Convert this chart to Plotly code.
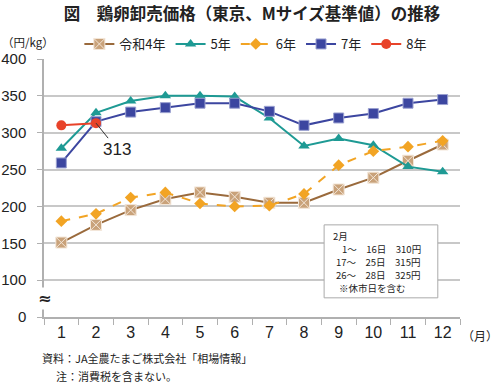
import plotly.graph_objects as go

months = ["1", "2", "3", "4", "5", "6", "7", "8", "9", "10", "11", "12"]
series_names = ["令和4年", "5年", "6年", "7年", "8年"]
r4 = [151, 175, 195, 210, 219, 213, 205, 205, 223, 239, 262, 284]
r5 = [279, 327, 343, 350, 350, 349, 320, 282, 292, 283, 254, 247]
r6 = [180, 190, 212, 219, 204, 200, 201, 217, 256, 275, 281, 289]
r7 = [259, 315, 328, 334, 340, 340, 329, 310, 320, 326, 340, 345]
r8 = [310, 313]
y_tickvals = [50, 100, 150, 200, 250, 300, 350, 400]
y_ticktext = ["0", "100", "150", "200", "250", "300", "350", "400"]
note_lines = ["2月", "1～　16日　310円", "17～　25日　315円", "26～　28日　325円", "※休市日を含む"]

FONT = "Noto Sans CJK JP, Arial, sans-serif"

fig = go.Figure()
fig.add_trace(go.Scatter(x=months, y=r4, name=series_names[0], mode="lines+markers",
                         line=dict(color="#9a6a3c", width=2),
                         marker=dict(symbol="square-x", size=11, color="#c9a27a",
                                     line=dict(color="#f3e6d8", width=1))))
fig.add_trace(go.Scatter(x=months, y=r5, name=series_names[1], mode="lines+markers",
                         line=dict(color="#1e9a94", width=2),
                         marker=dict(symbol="triangle-up", size=10, color="#1e9a94")))
fig.add_trace(go.Scatter(x=months, y=r6, name=series_names[2], mode="lines+markers",
                         line=dict(color="#f2a424", width=2, dash="dash"),
                         marker=dict(symbol="diamond", size=9, color="#f2a424")))
fig.add_trace(go.Scatter(x=months, y=r7, name=series_names[3], mode="lines+markers",
                         line=dict(color="#3c46a0", width=2),
                         marker=dict(symbol="square", size=10, color="#3c46a0",
                                     line=dict(color="#9aa0d0", width=1))))
fig.add_trace(go.Scatter(x=months[:2], y=r8, name=series_names[4], mode="lines+markers",
                         line=dict(color="#e8432a", width=2),
                         marker=dict(symbol="circle", size=10, color="#e8432a")))

fig.update_layout(
    width=500, height=384,
    margin=dict(l=44, r=40, t=59, b=67, autoexpand=False),
    paper_bgcolor="white", plot_bgcolor="white",
    font=dict(family=FONT, color="#222222"),
    showlegend=True,
    legend=dict(orientation="h", x=0.085, xanchor="left", y=1.0, yanchor="bottom",
                font=dict(size=13), itemwidth=30, bgcolor="rgba(0,0,0,0)"),
    title=dict(text="<b>図　鶏卵卸売価格（東京、Mサイズ基準値）の推移</b>",
               x=0.5, xanchor="center", xref="paper", y=0.963, yanchor="middle",
               font=dict(size=16.5, family=FONT, color="#222222")),
    xaxis=dict(type="category", tickson="boundaries", ticks="outside", ticklen=6,
               tickcolor="#b0b0b0", showline=True, linecolor="#b0b0b0", linewidth=1.5,
               showgrid=False, tickfont=dict(size=16, family="Arial, sans-serif"),
               range=[-0.5, 11.5]),
    yaxis=dict(range=[50, 400], tickvals=y_tickvals, ticktext=y_ticktext,
               showgrid=True, gridcolor="#c8c8c8", gridwidth=1.5,
               showline=True, linecolor="#b0b0b0", linewidth=1.5,
               ticks="outside", ticklen=5, tickcolor="#b0b0b0", ticklabelstandoff=8,
               tickfont=dict(size=15, family="Arial, sans-serif"), zeroline=False),
)

fig.add_annotation(x=1, y=313, text="313", showarrow=True, arrowhead=0, arrowwidth=1,
                   arrowcolor="#333333", ax=21, ay=26, font=dict(size=17, family="Arial, sans-serif"),
                   xanchor="center", yanchor="middle")
fig.add_annotation(xref="paper", yref="paper", x=-0.106, y=1.065, text="（円/kg）",
                   showarrow=False, xanchor="left", yanchor="middle", font=dict(size=11.5))
fig.add_annotation(xref="paper", yref="paper", x=1.096, y=-0.07, text="（月）",
                   showarrow=False, xanchor="right", yanchor="middle", font=dict(size=12))
fig.add_annotation(xref="paper", y=75, x=0, text="<b>≈</b>", showarrow=False,
                   xanchor="center", yanchor="middle", bgcolor="white",
                   font=dict(size=16, family="DejaVu Sans"))
fig.add_annotation(xref="paper", yref="paper", x=-0.01, y=-0.159,
                   text="資料：JA全農たまご株式会社「相場情報」", showarrow=False,
                   xanchor="left", yanchor="middle", font=dict(size=11))
fig.add_annotation(xref="paper", yref="paper", x=0.025, y=-0.229,
                   text="注：消費税を含まない。", showarrow=False,
                   xanchor="left", yanchor="middle", font=dict(size=11))

# note box
fig.add_shape(type="rect", x0=7.58, x1=10.86, y0=76, y1=175, xref="x", yref="y",
              fillcolor="white", line=dict(color="#aaaaaa", width=1), layer="above")
note_x = [7.81, 8.07, 7.89, 7.89, 7.98]
note_y = [160, 142, 124.5, 107, 89.5]
for t, nx, ny in zip(note_lines, note_x, note_y):
    fig.add_annotation(x=nx, y=ny, text=t, showarrow=False, xanchor="left",
                       yanchor="middle", borderpad=0, font=dict(size=9.5))

fig.write_html("out.html", config={"displayModeBar": False},
               post_script="document.body.style.margin='0px';")
